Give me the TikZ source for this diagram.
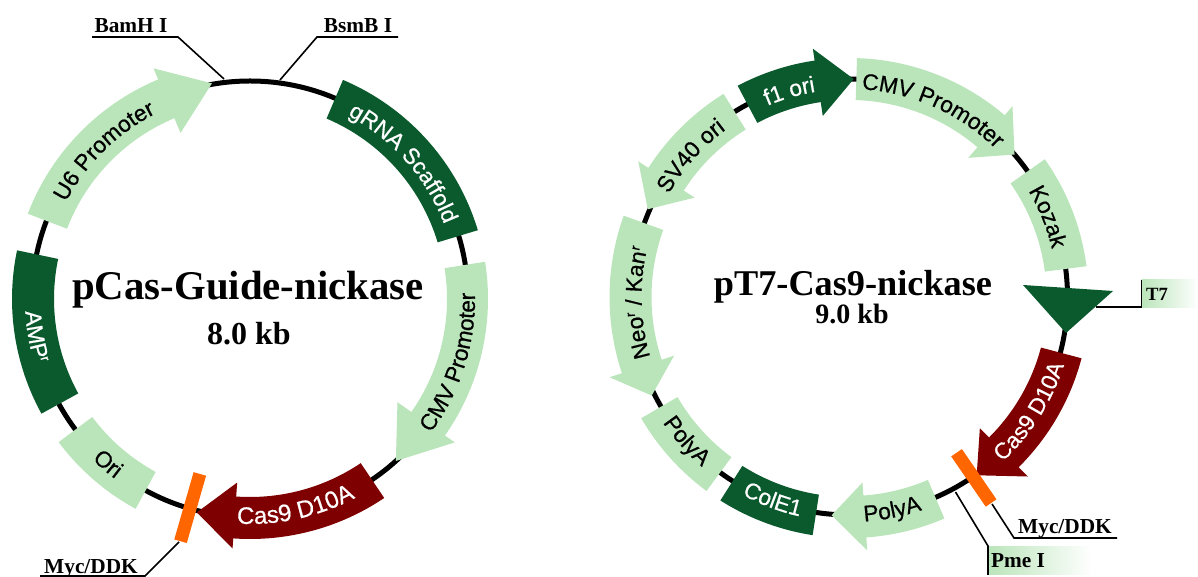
\documentclass[tikz,border=0pt]{standalone}
\usepackage{fontspec}
\setmainfont{Liberation Serif}
\setsansfont{Liberation Sans}
\newfontfamily\bandsans[FakeBold=0.6]{Liberation Sans}
\usetikzlibrary{decorations.text}

\definecolor{lightband}{HTML}{BAE5BA}
\definecolor{darkband}{HTML}{0B5A2E}
\definecolor{redband}{HTML}{7F0000}
\definecolor{tagband}{HTML}{FF6600}

\newcommand{\bandfont}{\bandsans\fontsize{17}{18}\selectfont}
\newcommand{\widefont}{\bandsans\fontsize{18}{18}\selectfont}
\newcommand{\supr}{{\raisebox{5.5pt}{\bandsans\fontsize{10}{10}\selectfont r}}}

\tikzset{
  backbone/.style={line width=3.75pt,black},
  leader/.style={line width=1.2pt,black},
  sitelabel/.style={font=\bfseries\fontsize{16}{18}\selectfont,inner sep=0pt,anchor=base},
  tag/.style={line width=9.75pt,tagband},
  blacktext/.style={decorate,decoration={text along path,text align=center,text color=black,text={|\bandfont|#1}}},
  whitetext/.style={decorate,decoration={text along path,text align=center,text color=white,text={|\bandfont|#1}}},
  widetext/.style={decorate,decoration={text along path,text align=center,text color=white,text={|\widefont|#1}}},
  fadebox/.style={left color=lightband,right color=white,draw=none}
}

\begin{document}
\begin{tikzpicture}[x=.75pt,y=.75pt]
\useasboundingbox (0,0) rectangle (1198,577);

% left leaders
\coordinate (bamhend) at (92,540);
\coordinate (bamhbend) at (178,540);
\coordinate (bamhcut) at (224,498);
\coordinate (bsmbend) at (398,540);
\coordinate (bsmbbend) at (317,540);
\coordinate (bsmbcut) at (280,497);
\coordinate (mycleftend) at (40,1);
\coordinate (mycleftbend) at (145,1);
\coordinate (mycleftcut) at (179,35);
\draw[leader] (bamhend) -- (bamhbend) -- (bamhcut);
\draw[leader] (bsmbend) -- (bsmbbend) -- (bsmbcut);
\draw[leader] (mycleftend) -- (mycleftbend) -- (mycleftcut);
\node[sitelabel] (bamh) at (131,544) {BamH I};
\node[sitelabel] (bsmb) at (358,544) {BsmB I};
\node[sitelabel] (mycleft) at (91,3) {Myc/DDK};

% left plasmid
\begin{scope}[shift={(250,278)}]
\draw[backbone] (0,0) circle (218);

\fill[lightband] (159:196) arc (159:112.7:196) -- (112.7:180) -- (100:219) -- (112.7:250) -- (112.7:238) arc (112.7:159:238) -- cycle;
\fill[darkband] (67:196) arc (67:16.8:196) -- (16.8:238) arc (16.8:67:238) -- cycle;
\fill[lightband] (9:197) arc (9:-35:197) -- (-35:180) -- (-48:218) -- (-35:250) -- (-35:238) arc (-35:9:238) -- cycle;
\fill[redband] (-56:198) arc (-56:-94:198) -- (-94:184) -- (-104:220) -- (-94:250) -- (-94:240) arc (-94:-56:240) -- cycle;
\fill[lightband] (216.8:197) arc (216.8:241.4:197) -- (241.4:239) arc (241.4:216.8:239) -- cycle;
\fill[darkband] (168.2:196) arc (168.2:208.8:196) -- (208.8:238) arc (208.8:168.2:238) -- cycle;
\draw[tag] (-106:182) -- (-106:252);

\path[blacktext={U6 Promoter}] (164.6:208) arc (164.6:104.6:208);
\path[whitetext={gRNA Scaffold}] (71.5:208) arc (71.5:11.5:208);
\path[blacktext={CMV Promoter}] (-47.5:225) arc (-47.5:12.5:225);
\path[widetext={Cas9 D10A}] (-107.7:225) arc (-107.7:-47.7:225);
\path[blacktext={Ori}] (199.3:225) arc (199.3:259.3:225);
\path[whitetext={AMP\supr}] (160:225) arc (160:220:225);
\end{scope}

\node[font=\bfseries\fontsize{30.6}{34}\selectfont,inner sep=0pt,anchor=base] (leftname) at (248,277) {pCas-Guide-nickase};
\node[font=\bfseries\fontsize{24}{26}\selectfont,inner sep=0pt,anchor=base] (leftsize) at (249,232) {8.0 kb};

% right leaders and boxes
\shade[fadebox] (1141.5,269) rectangle (1198,297);
\shade[fadebox] (988,2) rectangle (1092,30);
\coordinate (tsevenstart) at (1096,270);
\coordinate (tsevenbend) at (1141.5,270);
\coordinate (tseventop) at (1141.5,297);
\coordinate (mycrightcut) at (992,73);
\coordinate (mycrightbend) at (1014,39);
\coordinate (mycrightend) at (1117,39);
\coordinate (pmecut) at (955.5,85);
\coordinate (pmebend) at (988,31);
\coordinate (pmeend) at (988,2);
\draw[leader] (tsevenstart) -- (tsevenbend) -- (tseventop);
\draw[leader] (mycrightcut) -- (mycrightbend) -- (mycrightend);
\draw[leader] (pmecut) -- (pmebend) -- (pmeend);
\node[sitelabel,font=\bfseries\fontsize{14}{16}\selectfont] (tseven) at (1157,276) {T7};
\node[sitelabel] (mycright) at (1065,43) {Myc/DDK};
\node[sitelabel] (pme) at (1018,9) {Pme I};

% right plasmid
\begin{scope}[shift={(849.5,280)}]
\draw[backbone] (0,0) circle (218);

\fill[darkband] (117.9:197) arc (117.9:98.4:197) -- (98.4:183) -- (88.9:218) -- (98.4:251) -- (98.4:239) arc (98.4:117.9:239) -- cycle;
\fill[lightband] (88.2:197) arc (88.2:49.5:197) -- (49.5:183) -- (40.8:218) -- (49.5:251) -- (49.5:239) arc (49.5:88.2:239) -- cycle;
\fill[lightband] (35.2:197) arc (35.2:7.4:197) -- (7.4:239) arc (7.4:35.2:239) -- cycle;
\fill[redband] (-14.8:198) arc (-14.8:-45.2:198) -- (-45.2:185) -- (-54.5:219) -- (-45.2:253) -- (-45.2:240) arc (-45.2:-14.8:240) -- cycle;
\fill[lightband] (-66.8:199) arc (-66.8:-86:199) -- (-86:186) -- (-94.7:219) -- (-86:254) -- (-86:241) arc (-86:-66.8:241) -- cycle;
\fill[darkband] (237.6:200) arc (237.6:261.2:200) -- (261.2:241) arc (261.2:237.6:241) -- cycle;
\fill[lightband] (210.2:199) arc (210.2:233.6:199) -- (233.6:241) arc (233.6:210.2:241) -- cycle;
\fill[lightband] (160.2:198) arc (160.2:198.5:198) -- (198.5:185) -- (206.5:221) -- (198.5:253) -- (198.5:240) arc (198.5:160.2:240) -- cycle;
\fill[lightband] (121.8:197) arc (121.8:147.3:197) -- (147.3:184) -- (156.5:220) -- (147.3:251) -- (147.3:239) arc (147.3:121.8:239) -- cycle;
\draw[tag] (-55.5:189) -- (-55.5:250);

\path[whitetext={f1 ori}] (136.3:208) arc (136.3:76.3:208);
\path[blacktext={CMV Promoter}] (96:208) arc (96:36:208);
\path[blacktext={Kozak}] (52:208) arc (52:-8:208);
\path[blacktext={SV40 ori}] (168.4:208) arc (168.4:108.4:208);
\path[blacktext={Neo\supr{} / Kan\supr}] (211.6:208) arc (211.6:151.6:208);
\path[blacktext={PolyA}] (191.5:225) arc (191.5:251.5:225);
\path[whitetext={ColE1}] (219.3:225) arc (219.3:279.3:225);
\path[blacktext={PolyA}] (-108.7:225) arc (-108.7:-48.7:225);
\path[whitetext={Cas9 D10A}] (-62.4:225) arc (-62.4:-2.4:225);
\end{scope}

% T7 terminator
\coordinate (tsevenleft) at (1023,292);
\coordinate (tsevenright) at (1113,286);
\coordinate (tseventip) at (1066,244);
\fill[darkband] (tsevenleft) -- (tsevenright) -- (tseventip) -- cycle;

\node[font=\bfseries\fontsize{27.2}{30}\selectfont,inner sep=0pt,anchor=base] (rightname) at (853,281) {pT7-Cas9-nickase};
\node[font=\bfseries\fontsize{21}{24}\selectfont,inner sep=0pt,anchor=base] (rightsize) at (852,253) {9.0 kb};
\end{tikzpicture}
\end{document}
